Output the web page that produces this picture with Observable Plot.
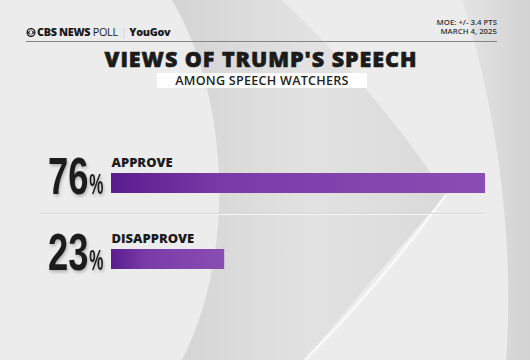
<!DOCTYPE html>
<html>
<head>
<meta charset="utf-8">
<script src="https://cdn.jsdelivr.net/npm/d3@7"></script>
<script src="https://cdn.jsdelivr.net/npm/@observablehq/plot@0.6"></script>
<style>
  html, body { margin: 0; padding: 0; }
  body { width: 530px; height: 360px; overflow: hidden; font-family: "Open Sans", Lato, sans-serif; }
  #wrap { position: relative; width: 530px; height: 360px; background: #ececec; overflow: hidden; }
  #bg { position: absolute; left: 0; top: 0; }
  .abs { position: absolute; }
  #brand { left: 26px; top: 24px; font-size: 10.8px; color: #1a1a1a; white-space: nowrap; letter-spacing: -0.3px; }
  #brand b { font-weight: 800; }
  #brand .poll { font-weight: 400; }
  #brand .sep { color: #c4c4c4; margin: 0 3px; font-weight: 300; }
  #moe { right: 33px; top: 18px; font-size: 7.8px; line-height: 9px; text-align: right; color: #333; font-weight: 600; }
  #rule { left: 26px; top: 41px; width: 471px; height: 1px; background: #858585; }
  #title { left: 0; width: 522px; top: 44px; text-align: center; font-size: 21.5px; font-weight: 800; color: #1b1b1b; letter-spacing: 0.95px; white-space: nowrap; -webkit-text-stroke: 0.6px #1b1b1b; }
  #subbox { left: 157px; top: 73px; width: 210px; height: 15px; background: #fff; }
  #subtitle { left: 157px; width: 210px; top: 72.5px; line-height: 15px; text-align: center; font-size: 12.6px; font-weight: 600; color: #222; letter-spacing: 0.25px; white-space: nowrap; }
  #chart { position: absolute; left: 0; top: 0; }
</style>
</head>
<body>
<div id="wrap">
  <svg id="bg" width="530" height="360">
    <defs>
      <linearGradient id="crescent" x1="0" y1="0" x2="1" y2="0">
        <stop offset="0" stop-color="#d4d4d4"/>
        <stop offset="0.5" stop-color="#e2e2e2"/>
        <stop offset="1" stop-color="#dadada"/>
      </linearGradient>
      <linearGradient id="rightband" x1="0" y1="0" x2="1" y2="0">
        <stop offset="0" stop-color="#e4e4e4"/>
        <stop offset="1" stop-color="#d2d2d2"/>
      </linearGradient>
    </defs>
    <rect width="530" height="360" fill="#ececec"/>
    <path d="M172,0 C228,95 238,250 182,360 L305,360 Q378,272 446,195 Q372,85 282,0 Z" fill="url(#crescent)"/>
    <path d="M462,0 C497,110 515,240 506,360 L530,360 L530,0 Z" fill="url(#rightband)"/>
    <path d="M446,195 Q380,285 305,360" fill="none" stroke="#fafafa" stroke-width="2.5"/>
    <line x1="40" x2="485" y1="213.5" y2="213.5" stroke="#d7d7d7" stroke-width="1"/>
    <line x1="40" x2="485" y1="214.5" y2="214.5" stroke="#f7f7f7" stroke-width="1"/>
  </svg>
  <div id="brand" class="abs"><svg width="10" height="9" viewBox="0 0 18 16" style="vertical-align:-0.5px;margin-right:1px"><circle cx="9" cy="8" r="7" fill="none" stroke="#1a1a1a" stroke-width="2.4"/><path d="M2.5,8 Q9,1 15.5,8 Q9,15 2.5,8 Z" fill="#1a1a1a"/><circle cx="9" cy="8" r="2.6" fill="#fff"/></svg><b>CBS NEWS</b> <span class="poll">POLL</span><span class="sep">|</span><b>YouGov</b></div>
  <div id="moe" class="abs">MOE: +/- 3.4 PTS<br>MARCH 4, 2025</div>
  <div id="rule" class="abs"></div>
  <div id="title" class="abs">VIEWS OF TRUMP'S SPEECH</div>
  <div id="subbox" class="abs"></div>
  <div id="subtitle" class="abs">AMONG SPEECH WATCHERS</div>
  <div id="chart"></div>
</div>
<script>
const categories = ["APPROVE", "DISAPPROVE"];
const values = [76, 23];
const percentSign = "%";

const data = categories.map((c, i) => ({ label: c, value: values[i] }));

const chart = Plot.plot({
  width: 530,
  height: 360,
  style: { background: "transparent", overflow: "visible" },
  x: { domain: [0, 100], range: [111, 603.1], axis: null },
  y: { domain: categories, range: [172, 269], paddingInner: 0.74, paddingOuter: 0, axis: null },
  marks: [
    Plot.barX(data, {
      x: "value", y: "label", fill: "url(#barGrad)",
      style: "filter: drop-shadow(0px 2px 2px rgba(0,0,0,0.28))"
    }),
    Plot.text(data, {
      x: 0, y: "label", text: () => percentSign,
      textAnchor: "end", lineAnchor: "bottom", dx: -8, dy: 10,
      fontSize: 29, fontWeight: "bold", fill: "#1c1c1c",
      fontFamily: "'Liberation Sans', Arial, sans-serif",
      className: "pct"
    }),
    Plot.text(data, {
      x: 0, y: "label", text: d => String(d.value),
      textAnchor: "end", lineAnchor: "bottom", dx: -23, dy: 10.5,
      fontSize: 52, fontWeight: "bold", fill: "#1c1c1c",
      fontFamily: "'Liberation Sans', Arial, sans-serif",
      className: "num"
    }),
    Plot.text(data, {
      x: 0, y: "label", text: "label",
      textAnchor: "start", lineAnchor: "bottom", dy: -17,
      fontSize: 13, fontWeight: 800, fill: "#1c1c1c", letterSpacing: 0.7,
      fontFamily: "'Open Sans', Lato, sans-serif"
    })
  ]
});

const defs = d3.select(chart).insert("defs", ":first-child");
const g = defs.append("linearGradient").attr("id", "barGrad").attr("x1", 0).attr("x2", 1).attr("y1", 0).attr("y2", 0);
g.append("stop").attr("offset", 0).attr("stop-color", "#5a1d8d");
g.append("stop").attr("offset", 0.3).attr("stop-color", "#7a3ba7");
g.append("stop").attr("offset", 1).attr("stop-color", "#8a4db3");

function squeeze(sel, k) {
  d3.select(chart).selectAll(sel + " text").each(function () {
    const t = this.getAttribute("transform") || "";
    this.setAttribute("transform", (t + " scale(" + k + ",1)").trim());
  });
}
squeeze(".num", 0.7);
squeeze(".pct", 0.55);

d3.select(chart).selectAll(".num, .pct").style("filter", "drop-shadow(1px 2px 1.5px rgba(0,0,0,0.25))");

document.getElementById("chart").appendChild(chart);
</script>
</body>
</html>
